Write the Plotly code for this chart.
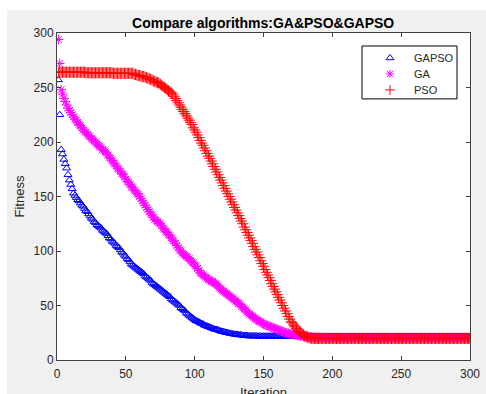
import plotly.graph_objects as go

# ---- data (fitness per iteration, 1..300) ----
iterations = list(range(1, 301))

gapso = [
    257, 225, 193, 189, 184, 180, 176, 170, 165, 161,
    157, 153, 151, 149, 147, 146, 144, 142, 141, 139,
    137, 136, 134, 132, 130, 129, 127, 126, 124, 123,
    122, 121, 119, 118, 117, 116, 114, 112, 111, 109,
    108, 107, 105, 104, 103, 101, 99, 98, 96, 95,
    93, 92, 90, 88, 87, 86, 85, 84, 83, 82,
    81, 80, 79, 77, 76, 75, 74, 73, 71, 70,
    69, 68, 67, 66, 65, 64, 63, 62, 61, 60,
    59, 58, 56, 55, 54, 53, 52, 51, 50, 48,
    47, 46, 45, 43, 42, 41, 40, 39, 38, 37,
    36, 35.5, 35, 34, 33.5, 33, 32, 31.5, 31, 30.5,
    30, 29.5, 29, 28.5, 28, 28, 27.5, 27, 26.5, 26,
    26, 25.5, 25, 25, 24.5, 24.5, 24, 24, 23.5, 23.5,
    23.5, 23, 23, 23, 22.5, 22.5, 22.5, 22.5, 22, 22,
    22, 22, 22, 22, 22, 21.8, 21.8, 21.8, 21.8, 21.8,
    21.8, 21.8, 21.8, 21.8, 21.8, 21.8, 21.8, 21.8, 21.8, 21.8,
    21.6, 21.6, 21.6, 21.6, 21.6, 21.6, 21.6, 21.6, 21.6, 21.6,
    21.6, 21.6, 21.6, 21.6, 21.6, 21.6, 21.6, 21.6, 21.6, 21.6,
    21.5, 21.5, 21.5, 21.5, 21.5, 21.5, 21.5, 21.5, 21.5, 21.5,
    21.5, 21.5, 21.5, 21.5, 21.5, 21.5, 21.5, 21.5, 21.5, 21.5,
    21.5, 21.5, 21.5, 21.5, 21.5, 21.5, 21.5, 21.5, 21.5, 21.5,
    21.5, 21.5, 21.5, 21.5, 21.5, 21.5, 21.5, 21.5, 21.5, 21.5,
    21.5, 21.5, 21.5, 21.5, 21.5, 21.5, 21.5, 21.5, 21.5, 21.5,
    21.5, 21.5, 21.5, 21.5, 21.5, 21.5, 21.5, 21.5, 21.5, 21.5,
    21.5, 21.5, 21.5, 21.5, 21.5, 21.5, 21.5, 21.5, 21.5, 21.5,
    21.5, 21.5, 21.5, 21.5, 21.5, 21.5, 21.5, 21.5, 21.5, 21.5,
    21.5, 21.5, 21.5, 21.5, 21.5, 21.5, 21.5, 21.5, 21.5, 21.5,
    21.5, 21.5, 21.5, 21.5, 21.5, 21.5, 21.5, 21.5, 21.5, 21.5,
    21.5, 21.5, 21.5, 21.5, 21.5, 21.5, 21.5, 21.5, 21.5, 21.5,
    21.5, 21.5, 21.5, 21.5, 21.5, 21.5, 21.5, 21.5, 21.5, 21.5,
]

ga = [
    294, 272, 248, 244, 240, 237, 234, 231, 229, 227,
    225, 223, 221, 220, 218, 216, 215, 213, 211, 210,
    209, 207, 206, 205, 203, 202, 201, 200, 198, 197,
    196, 195, 193, 192, 191, 190, 188, 186, 185, 183,
    181, 180, 178, 176, 175, 173, 171, 170, 168, 166,
    164, 163, 161, 159, 158, 156, 155, 153, 152, 150,
    148, 146, 144, 142, 140, 138, 136, 134, 133, 131,
    129, 128, 127, 126, 125, 123, 121, 120, 118, 117,
    115, 114, 112, 110, 109, 107, 105, 103, 101, 100,
    98, 97, 96, 95, 94, 93, 91, 90, 89, 87,
    86, 84, 82, 80, 79, 78, 77, 76, 75, 74,
    73, 72, 72, 71, 70, 69, 68, 66, 65, 64,
    63, 62, 61, 60, 59, 58, 57, 56, 55, 54,
    53, 52, 51, 49, 48, 47, 46, 44, 43, 42,
    41, 40, 39, 38, 37, 36, 35.5, 35, 34, 33,
    32.5, 32, 31.5, 31, 30.5, 30, 29.5, 29, 28.5, 28,
    27.5, 27, 26.5, 26, 25.5, 25, 24.5, 24.5, 24, 24,
    23.5, 23.5, 23, 23, 22.5, 22.5, 22, 22, 21.5, 21.5,
    21.5, 21, 21, 21, 21, 20.8, 20.8, 20.6, 20.6, 20.5,
    20.5, 20.5, 20.5, 20.4, 20.4, 20.4, 20.4, 20.3, 20.3, 20.3,
    20.3, 20.3, 20.3, 20.3, 20.3, 20.3, 20.3, 20.3, 20.3, 20.3,
    20.3, 20.3, 20.3, 20.3, 20.3, 20.3, 20.3, 20.3, 20.3, 20.3,
    20.3, 20.3, 20.3, 20.3, 20.3, 20.3, 20.3, 20.3, 20.3, 20.3,
    20.3, 20.3, 20.3, 20.3, 20.3, 20.3, 20.3, 20.3, 20.3, 20.3,
    20.3, 20.3, 20.3, 20.3, 20.3, 20.3, 20.3, 20.3, 20.3, 20.3,
    20.3, 20.3, 20.3, 20.3, 20.3, 20.3, 20.3, 20.3, 20.3, 20.3,
    20.3, 20.3, 20.3, 20.3, 20.3, 20.3, 20.3, 20.3, 20.3, 20.3,
    20.3, 20.3, 20.3, 20.3, 20.3, 20.3, 20.3, 20.3, 20.3, 20.3,
    20.3, 20.3, 20.3, 20.3, 20.3, 20.3, 20.3, 20.3, 20.3, 20.3,
    20.3, 20.3, 20.3, 20.3, 20.3, 20.3, 20.3, 20.3, 20.3, 20.3,
]

pso = [
    264, 264, 264, 264, 264, 264, 264, 264, 264, 264,
    264, 264, 264, 264, 264, 264, 264, 264, 264, 264,
    263.5, 263.5, 263.5, 263.5, 263.5, 263.5, 263.5, 263.5, 263.5, 263.5,
    263.5, 263.5, 263.5, 263.5, 263.5, 263.5, 263.5, 263.5, 263.5, 263.5,
    263, 263, 263, 263, 263, 263, 263, 263, 263, 263,
    263, 263, 263, 263, 263, 262, 262, 261.5, 261, 261,
    260.5, 260, 260, 259.5, 259, 258.5, 258, 257.5, 257, 256,
    255.5, 255, 254.5, 254, 253, 252, 251, 250, 249, 248,
    247, 246, 245, 244, 242, 240, 238, 236, 234, 232,
    230, 228, 226, 224, 222, 220, 218, 216, 213, 211,
    209, 206.5, 204, 201.5, 199, 197, 194.5, 192, 189.5, 187,
    185, 182.5, 180, 177.5, 175, 172.5, 170, 167.5, 165, 162.5,
    160, 157.5, 155, 152.5, 150, 147.5, 145, 142.5, 140, 137.5,
    135, 132.5, 130, 127.5, 125, 122, 119.5, 117, 114.5, 112,
    109.5, 107, 104, 101.5, 99, 96.5, 94, 91, 88.5, 86,
    83, 80.5, 78, 75.5, 73, 70, 67.5, 65, 62.5, 60,
    57.5, 55, 52.5, 50, 47.5, 45, 42.5, 40, 37.5, 35,
    34, 32, 30.5, 29, 27.5, 26, 25, 24, 23, 22,
    21.5, 21, 20.5, 20, 20, 19.8, 19.8, 19.8, 19.8, 19.8,
    19.8, 19.8, 19.8, 19.8, 19.8, 19.8, 19.8, 19.8, 19.8, 19.8,
    19.8, 19.8, 19.8, 19.8, 19.8, 19.8, 19.8, 19.8, 19.8, 19.8,
    19.8, 19.8, 19.8, 19.8, 19.8, 19.8, 19.8, 19.8, 19.8, 19.8,
    19.8, 19.8, 19.8, 19.8, 19.8, 19.8, 19.8, 19.8, 19.8, 19.8,
    19.8, 19.8, 19.8, 19.8, 19.8, 19.8, 19.8, 19.8, 19.8, 19.8,
    19.8, 19.8, 19.8, 19.8, 19.8, 19.8, 19.8, 19.8, 19.8, 19.8,
    19.8, 19.8, 19.8, 19.8, 19.8, 19.8, 19.8, 19.8, 19.8, 19.8,
    19.8, 19.8, 19.8, 19.8, 19.8, 19.8, 19.8, 19.8, 19.8, 19.8,
    19.8, 19.8, 19.8, 19.8, 19.8, 19.8, 19.8, 19.8, 19.8, 19.8,
    19.8, 19.8, 19.8, 19.8, 19.8, 19.8, 19.8, 19.8, 19.8, 19.8,
    19.8, 19.8, 19.8, 19.8, 19.8, 19.8, 19.8, 19.8, 19.8, 19.8,
]

series_names = ["GAPSO", "GA", "PSO"]
series_colors = ["#0000ff", "#ff00ff", "#ff0000"]
series_symbols = ["triangle-up-open", "asterisk-open", "cross-thin-open"]
series_sizes = [7, 8, 8]
x_ticks = [0, 50, 100, 150, 200, 250, 300]
y_ticks = [0, 50, 100, 150, 200, 250, 300]

FONT = "Liberation Sans, Arial, Helvetica, sans-serif"
TXT = "#262626"
AX = "#404040"

# plot area in pixels (for placing the boxed legend in paper coordinates)
PL, PR, PT, PB = 57, 470, 33, 360.5
def px_x(px):
    return (px - PL) / (PR - PL)
def px_y(py):
    return (PB - py) / (PB - PT)

fig = go.Figure()
for name, vals, col, sym, sz in zip(series_names, [gapso, ga, pso],
                                    series_colors, series_symbols, series_sizes):
    fig.add_trace(go.Scatter(
        x=iterations, y=vals, mode="markers", name=name, showlegend=False,
        marker=dict(symbol=sym, size=sz, color=col,
                    line=dict(width=1, color=col)),
    ))

# legend (MATLAB-style boxed legend, compact rows)
legend_rows_y = [58, 74, 90]
for name, col, sym, ry in zip(series_names, series_colors, series_symbols, legend_rows_y):
    fig.add_trace(go.Scatter(
        x=[px_x(390)], y=[px_y(ry)], xaxis="x2", yaxis="y2",
        mode="markers", showlegend=False, hoverinfo="skip",
        marker=dict(symbol=sym, size=7, color=col, line=dict(width=1, color=col)),
    ))

annotations = [
    dict(text=name, x=px_x(412), y=px_y(ry), xref="paper", yref="paper",
         xanchor="left", yanchor="middle", showarrow=False,
         font=dict(family=FONT, size=11, color=TXT))
    for name, ry in zip(series_names, legend_rows_y)
]
# x-axis title, partly cut off by the bottom edge as in the reference
annotations.append(dict(
    text="Iteration", x=0.5, y=px_y(384), xref="paper", yref="paper",
    xanchor="center", yanchor="top", showarrow=False,
    font=dict(family=FONT, size=13, color=TXT)))

axis_common = dict(
    showgrid=False, zeroline=False, showline=True, linecolor=AX, linewidth=1,
    mirror="ticks", ticks="inside", ticklen=4, tickcolor=AX, tickwidth=1,
    tickfont=dict(family=FONT, size=12, color=TXT),
)

fig.update_layout(
    width=486, height=394,
    margin=dict(l=57, r=16, t=33, b=34, pad=0),
    paper_bgcolor="#f0f0f0", plot_bgcolor="#ffffff",
    font=dict(family=FONT, color=TXT),
    showlegend=False,
    title=dict(text="<b>Compare algorithms:GA&PSO&GAPSO</b>",
               x=0.5415, xanchor="center", y=1 - 23.5 / 394, yanchor="middle",
               font=dict(family=FONT, size=14, color="#000000")),
    xaxis=dict(range=[0, 300], tickvals=x_ticks, automargin=False,
               ticklabelstandoff=3, **axis_common),
    yaxis=dict(range=[0, 300], tickvals=y_ticks, automargin=False,
               title=dict(text="Fitness", standoff=6,
                          font=dict(family=FONT, size=13, color=TXT)),
               **axis_common),
    xaxis2=dict(domain=[0, 1], range=[0, 1], overlaying="x", visible=False,
                fixedrange=True),
    yaxis2=dict(domain=[0, 1], range=[0, 1], overlaying="y", visible=False,
                fixedrange=True),
    annotations=annotations,
    shapes=[
        # legend box
        dict(type="rect", xref="paper", yref="paper", layer="below",
             x0=px_x(362), x1=px_x(457), y0=px_y(99), y1=px_y(46),
             fillcolor="#ffffff", line=dict(width=1, color="#000000")),
        # white strips at the top and left edges of the picture
        dict(type="rect", xref="paper", yref="paper", layer="above",
             x0=-0.2, x1=1.1, y0=px_y(10), y1=1.2,
             fillcolor="#ffffff", line=dict(width=0)),
        dict(type="rect", xref="paper", yref="paper", layer="above",
             x0=-0.2, x1=px_x(7), y0=-0.2, y1=1.2,
             fillcolor="#ffffff", line=dict(width=0)),
    ],
)

fig.write_html("out.html")
